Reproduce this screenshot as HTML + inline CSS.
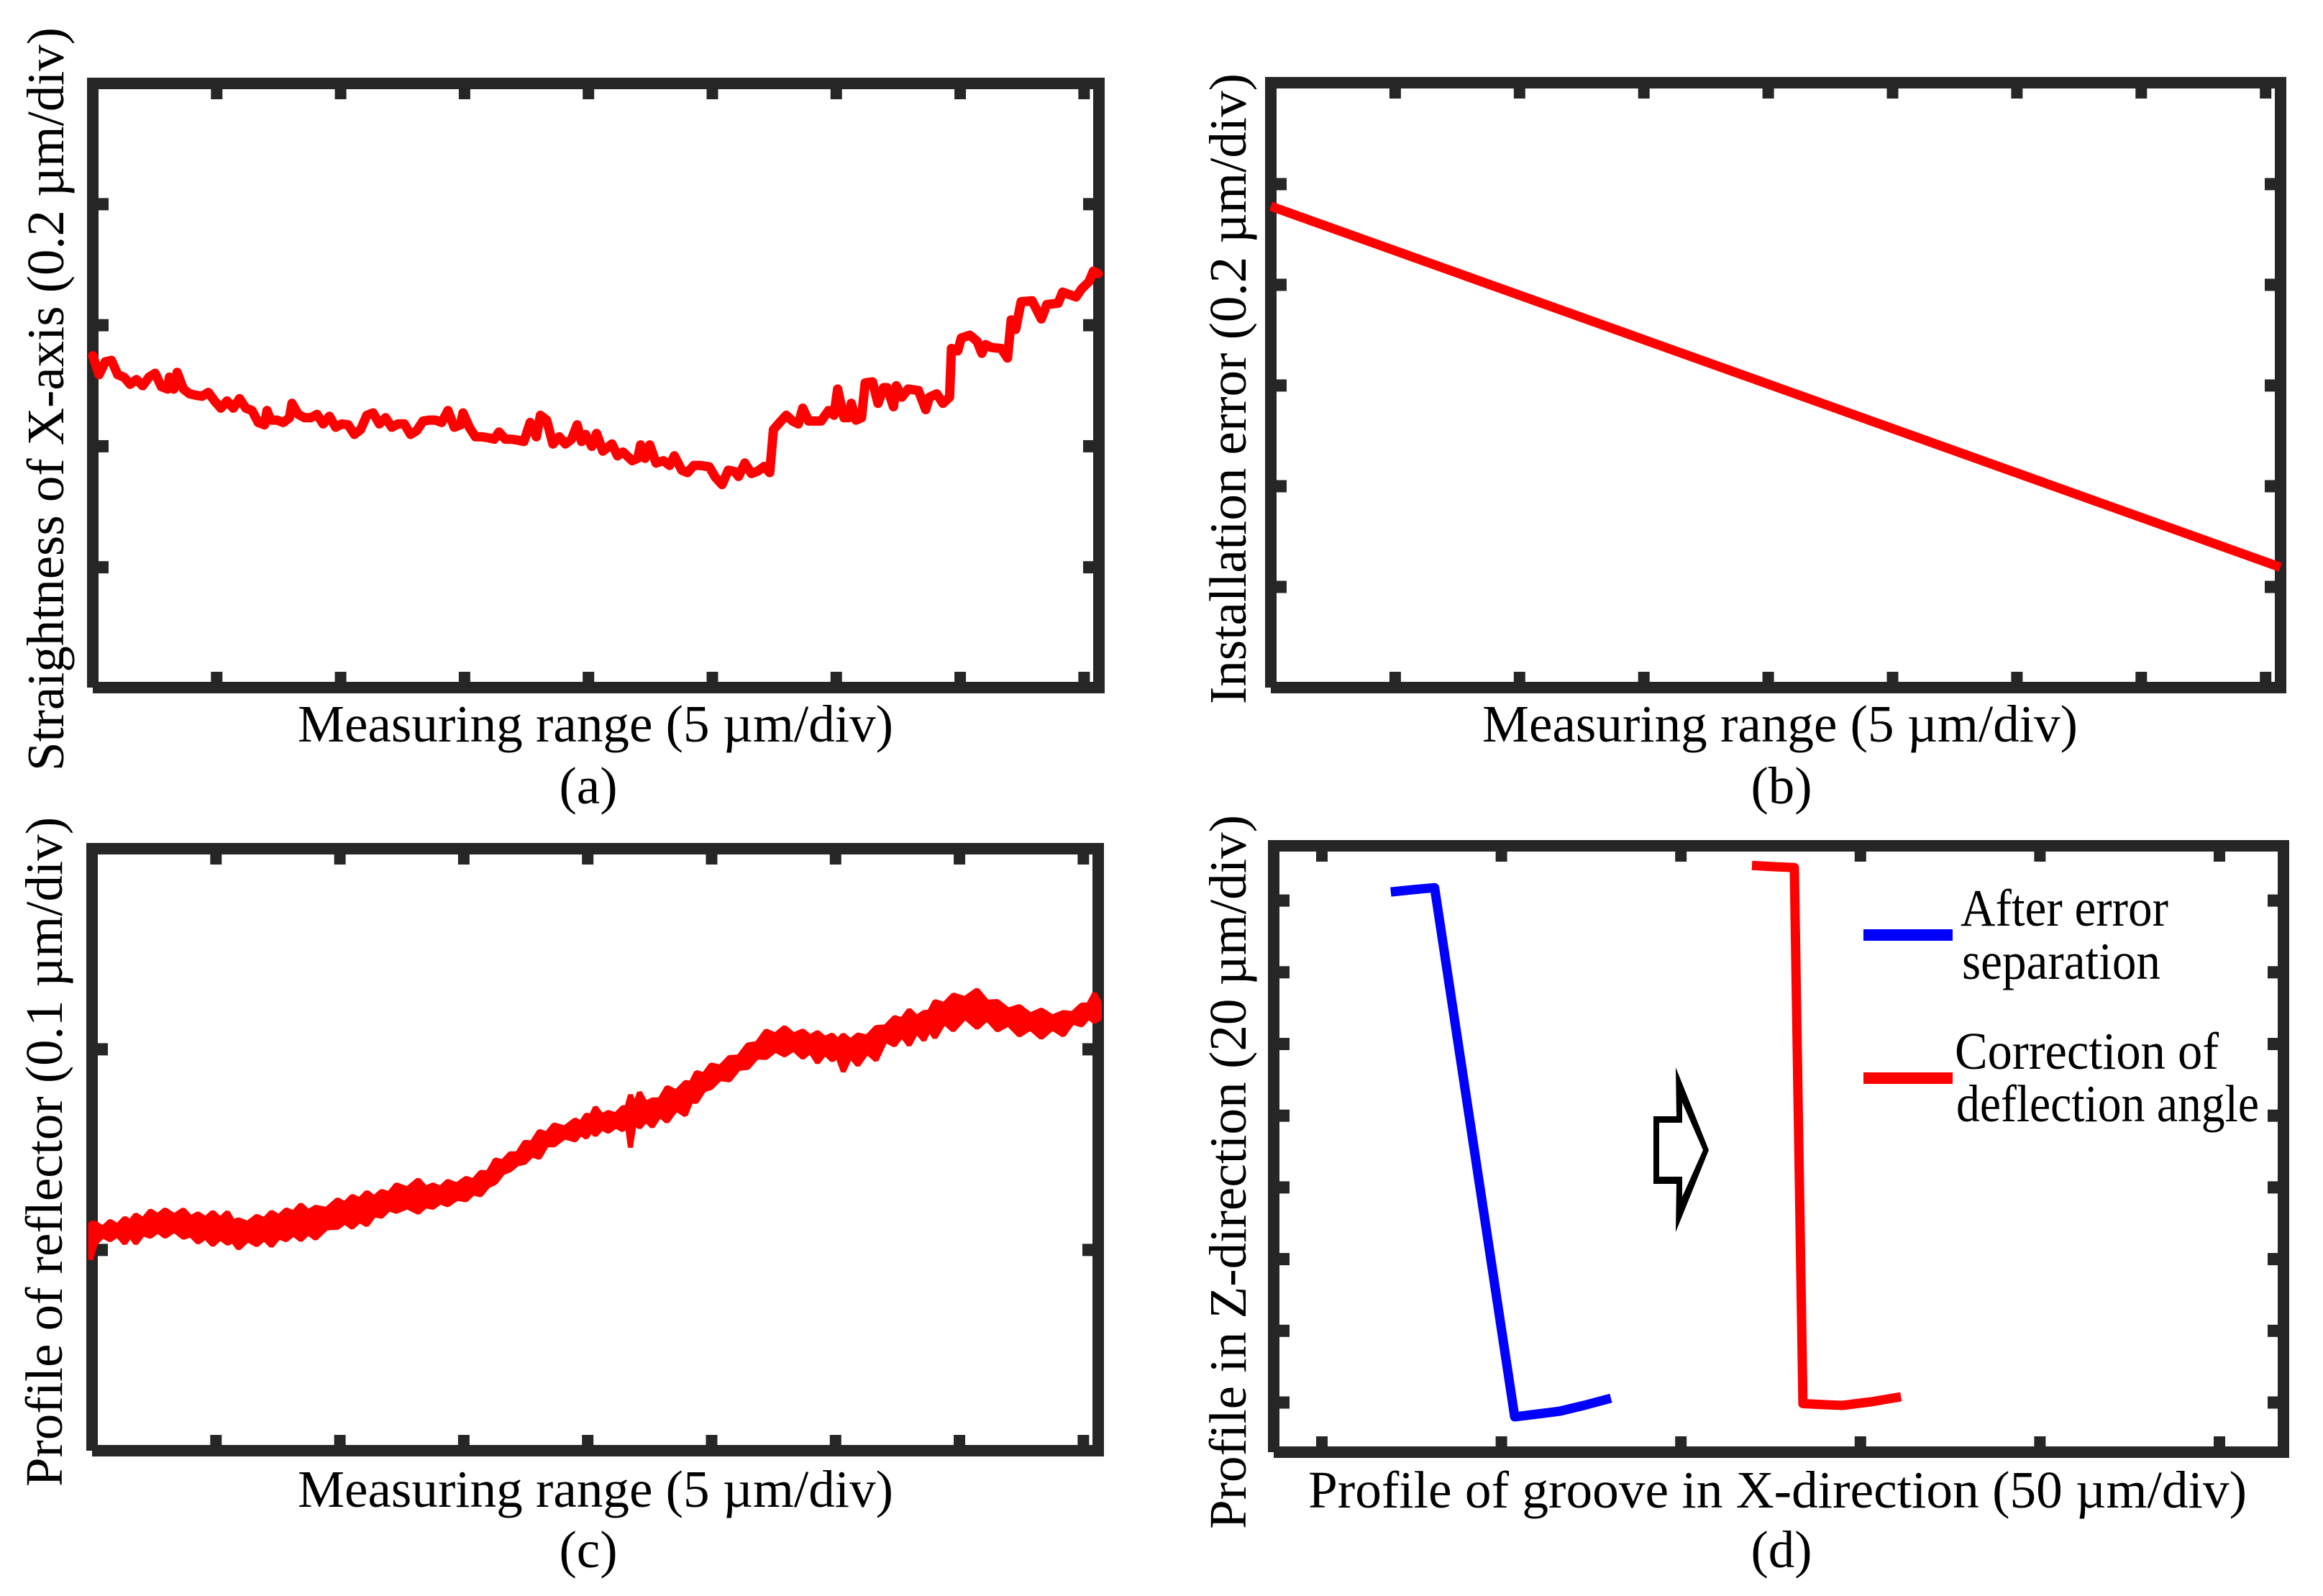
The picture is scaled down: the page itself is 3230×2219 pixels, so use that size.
<!DOCTYPE html>
<html lang="en">
<head>
<meta charset="utf-8">
<title>Error separation profile charts</title>
<style>
html,body{margin:0;padding:0;background:#fff}
svg{display:block}
text{font-family:"Liberation Serif",serif;font-size:73px;fill:#000}
</style>
</head>
<body>
<svg id="figure" xmlns="http://www.w3.org/2000/svg" width="3230" height="2219" viewBox="0 0 3230 2219">
<rect x="0" y="0" width="3230" height="2219" fill="#fff"/>
<g id="panel-a"></g>
<g id="panel-b"></g>
<g id="panel-c"></g>
<g id="panel-d"></g>

<text transform="translate(88 1072) rotate(-90)" textLength="1034" lengthAdjust="spacingAndGlyphs">Straightness of X-axis (0.2 µm/div)</text>
<text x="414" y="1031" textLength="828" lengthAdjust="spacingAndGlyphs">Measuring range (5 µm/div)</text>
<text x="818" y="1117" text-anchor="middle">(a)</text>

<text transform="translate(1732 979) rotate(-90)" textLength="877" lengthAdjust="spacingAndGlyphs">Installation error (0.2 µm/div)</text>
<text x="2061" y="1031" textLength="828" lengthAdjust="spacingAndGlyphs">Measuring range (5 µm/div)</text>
<text x="2477" y="1117" text-anchor="middle">(b)</text>

<text transform="translate(86 2067) rotate(-90)" textLength="931" lengthAdjust="spacingAndGlyphs">Profile of reflector (0.1 µm/div)</text>
<text x="414" y="2095" textLength="828" lengthAdjust="spacingAndGlyphs">Measuring range (5 µm/div)</text>
<text x="818" y="2179" text-anchor="middle">(c)</text>

<text transform="translate(1732 2126) rotate(-90)" textLength="993" lengthAdjust="spacingAndGlyphs">Profile in Z-direction (20 µm/div)</text>
<text x="1819" y="2096" textLength="1305" lengthAdjust="spacingAndGlyphs">Profile of groove in X-direction (50 µm/div)</text>
<text x="2477" y="2179" text-anchor="middle">(d)</text>

<g>
<rect x="2591" y="1292" width="124" height="16" fill="#0000ff"/>
<text x="2726" y="1287" textLength="289" lengthAdjust="spacingAndGlyphs">After error</text>
<text x="2728" y="1361" textLength="276" lengthAdjust="spacingAndGlyphs">separation</text>
<rect x="2591" y="1491" width="124" height="16" fill="#ff0000"/>
<text x="2718" y="1486" textLength="367" lengthAdjust="spacingAndGlyphs">Correction of</text>
<text x="2720" y="1559" textLength="421" lengthAdjust="spacingAndGlyphs">deflection angle</text>
</g>
<path fill="#000" fill-rule="evenodd" d="M2299,1552 L2331,1552 L2330,1484 L2376,1599 L2330,1713 L2331,1646 L2299,1646 Z M2307,1561 L2339,1561 L2339,1533 L2368,1599 L2339,1664 L2339,1636 L2307,1636 Z"/>
</svg>

<script>
// Panel (a): straightness trace (sample index, height counts)
const samplesA = [0,17,34,51,68,85,102,119,136,153,170,187,204,209,221,230,247,264,281,298,315,332,349,366,383,400,417,434,451,468,475,485,502,519,536,543,560,577,594,611,628,645,662,679,696,713,730,747,764,781,798,815,832,849,866,883,900,917,934,951,968,985,1002,1009,1026,1043,1060,1077,1094,1107,1124,1141,1158,1175,1192,1209,1220,1237,1254,1271,1288,1305,1320,1332,1343,1360,1373,1390,1415,1430,1445,1470,1485,1493,1505,1518,1535,1555,1572,1585,1605,1621,1638,1655,1680,1697,1715,1732,1750,1760,1777,1795,1812,1830,1845,1855,1872,1890,1907,1923,1935,1951,1968,1985,2005,2020,2030,2047,2060,2067,2080,2095,2105,2125,2140,2155,2165,2182,2190,2205,2222,2250,2270,2280,2300,2317,2335,2340,2357,2367,2390,2410,2423,2433,2450,2475,2493,2503,2515,2530,2560,2585,2600,2631,2643,2680,2695,2715,2727,2740];
const heightsA = [697,657,684,687,657,652,637,647,634,652,660,632,627,652,627,662,627,617,614,612,620,602,587,602,587,607,587,582,557,552,582,562,562,557,567,597,574,567,567,574,554,570,547,554,552,532,542,572,577,554,567,547,554,554,532,540,560,562,562,557,582,547,552,577,547,527,527,525,522,537,522,522,520,517,557,527,572,562,512,527,512,522,552,517,532,507,534,497,512,487,495,477,482,510,482,510,472,477,467,487,457,452,467,467,464,442,427,457,454,444,472,450,455,465,452,542,557,572,560,554,587,560,560,560,582,572,627,567,567,597,562,567,640,642,597,630,630,590,634,610,627,624,584,610,617,597,610,712,707,734,740,727,702,720,714,712,692,772,752,810,812,774,804,807,830,820,837,852,874,869];
const xTickDivsA = [1,2,3,4,5,6,7,8];
const yTickDivsA = [1,2,3,4];

// Panel (b): installation error line (µm)
const rangeB = [0, 40.6];
const errorB = [0.956, 0.239];
const xTickDivsB = [1,2,3,4,5,6,7,8];
const yTickDivsB = [1,2,3,4,5];

// Panel (c): noisy reflector profile, upper and lower envelope (sample index, counts)
const samplesC = [-4,9,29,49,69,89,104,119,139,159,179,199,224,249,269,289,309,329,349,369,384,399,424,449,469,489,509,529,549,569,589,609,639,669,689,709,729,749,769,789,809,829,859,889,909,929,949,969,994,1019,1039,1059,1079,1099,1119,1139,1159,1179,1199,1219,1239,1259,1288,1317,1332,1347,1359,1372,1389,1407,1427,1447,1457,1467,1479,1492,1509,1527,1547,1567,1592,1617,1632,1647,1667,1687,1712,1737,1762,1787,1812,1837,1862,1887,1912,1937,1957,1977,1997,2017,2032,2047,2067,2087,2112,2137,2162,2187,2207,2227,2247,2267,2282,2297,2322,2347,2379,2412,2439,2467,2497,2527,2557,2587,2617,2647,2672,2697,2715,2732,2745];
const upperC = [455,455,445,459,450,465,458,472,462,480,470,482,470,482,466,474,464,477,463,477,458,462,455,469,462,477,468,482,476,492,478,487,483,502,494,509,502,517,506,519,514,532,524,542,525,532,525,539,532,545,540,557,556,582,578,594,594,617,616,639,634,652,646,662,655,672,668,687,670,677,672,687,685,712,690,717,695,702,702,727,718,737,735,757,752,772,768,787,788,812,815,840,832,847,832,840,828,837,825,832,820,832,820,832,828,847,848,867,862,882,867,877,878,899,893,912,905,922,898,899,882,889,872,882,868,877,875,892,892,915,897];
const lowerC = [382,415,430,422,432,415,432,415,434,429,440,429,441,427,432,417,428,412,426,415,420,405,422,412,425,410,428,422,434,422,436,425,446,447,458,447,461,452,472,469,484,479,488,477,490,487,498,492,505,502,516,512,530,537,556,562,574,577,592,587,612,612,628,622,636,627,642,632,646,639,650,642,662,607,662,647,662,649,672,659,684,672,700,699,722,727,745,742,765,767,788,787,802,792,804,787,800,777,796,782,790,759,790,772,798,782,822,812,832,812,840,822,845,827,858,842,868,847,865,842,854,832,846,827,846,832,858,852,868,859,865];
const xTickDivsC = [1,2,3,4,5,6,7,8];
const yTickDivsC = [1,2];

// Panel (d): groove profile (µm)
const blueXD = [19.2,25,31.4,53.7,60,66.3,73,80.5];
const blueZD = [142.4,143,143.6,-4.0,-3.2,-2.4,-0.8,1.2];
const redXD = [119.8,125,131.6,134.0,140,145.0,153,161.3];
const redZD = [149.8,149.5,149.2,-0.3,-0.6,-0.8,0.2,1.6];
const xTickDivsD = [0,1,2,3,4,5];
const yTickDivsD = [0,1,2,3,4,5,6,7];

// Axis functions
const xA = s => 129 + s / 1.96;
const yA = v => 957 - v / 1.507;
const xB = um => 1767 + um / 5 * 172.9;
const yB = um => 956 - um / 0.2 * 140;
const xC = s => 128 + s / 1.96;
const yC = v => 2016.8 - v / 1.44;
const xD = um => 1838 + um / 50 * 249.6;
const yD = um => 1950 - um / 20 * 99.7;

const NS = 'http://www.w3.org/2000/svg';
const FRAME = '#262626';

function makeRect(parent, x, y, w, h) {
  const r = document.createElementNS(NS, 'rect');
  r.setAttribute('x', x);
  r.setAttribute('y', y);
  r.setAttribute('width', w);
  r.setAttribute('height', h);
  r.setAttribute('fill', FRAME);
  parent.appendChild(r);
  return r;
}

function drawFrame(id, L, R, T, B, xPositions, yPositions) {
  const g = document.getElementById(id);
  const t = 16, len = 14, tw = 16, th = 17;
  const top = makeRect(g, L, T, R - L, t);
  
  
  const left = makeRect(g, L, T, t, B - T - 8);
  
  
  const right = makeRect(g, R - t, T, t, B - T);
  
  
  const bottom = makeRect(g, L + 8, B - t, R - L - 8, t);
  
  
  xPositions.forEach(px => {
    const a = makeRect(g, px - tw / 2, T + t, tw, len);
    
    
    const b = makeRect(g, px - tw / 2, B - t - len, tw, len);
    
    
  });
  yPositions.forEach(py => {
    const a = makeRect(g, L + t, py - th / 2, len, th);
    
    
    const b = makeRect(g, R - t - len, py - th / 2, len, th);
    
    
  });
  return g;
}

function linePoints(xs, ys, fx, fy) {
  return xs.map((x, i) => fx(x).toFixed(1) + ',' + fy(ys[i]).toFixed(1)).join(' ');
}

function makePolyline(parent, pts, color, width, cap) {
  const p = document.createElementNS(NS, 'polyline');
  p.setAttribute('points', pts);
  p.setAttribute('fill', 'none');
  p.setAttribute('stroke', color);
  p.setAttribute('stroke-width', width);
  p.setAttribute('stroke-linejoin', 'round');
  p.setAttribute('stroke-linecap', cap);
  parent.appendChild(p);
  return p;
}

// Panel a
const gA = drawFrame('panel-a', 121, 1536, 108, 964,
  xTickDivsA.map(k => xA(k * 337.7)), yTickDivsA.map(k => yA(k * 253.6)));
const traceA = makePolyline(gA, linePoints(samplesA, heightsA, xA, yA), '#ff0000', 13, 'round');



// Panel b
const gB = drawFrame('panel-b', 1759, 3179, 107, 964,
  xTickDivsB.map(k => xB(k * 5)), yTickDivsB.map(k => yB(k * 0.2)));
const traceB = makePolyline(gB, linePoints(rangeB, errorB, xB, yB), '#ff0000', 13, 'butt');



// Panel c
const gC = drawFrame('panel-c', 120, 1535, 1172, 2025,
  xTickDivsC.map(k => xC(k * 337.7)), yTickDivsC.map(k => yC(k * 401.7)));
const bandC = document.createElementNS(NS, 'polygon');
const upperPts = samplesC.map((s, i) => xC(s).toFixed(1) + ',' + yC(upperC[i]).toFixed(1));
const lowerPts = samplesC.map((s, i) => xC(s).toFixed(1) + ',' + yC(lowerC[i]).toFixed(1)).reverse();
bandC.setAttribute('points', upperPts.concat(lowerPts).join(' '));
bandC.setAttribute('fill', '#ff0000');
bandC.setAttribute('stroke', '#ff0000');
bandC.setAttribute('stroke-width', '7');
bandC.setAttribute('stroke-linejoin', 'bevel');


gC.appendChild(bandC);

// Panel d
const gD = drawFrame('panel-d', 1763, 3183, 1168, 2027,
  xTickDivsD.map(k => xD(k * 50)), yTickDivsD.map(k => yD(k * 20)));
const traceBlue = makePolyline(gD, linePoints(blueXD, blueZD, xD, yD), '#0000ff', 13, 'butt');


const traceRed = makePolyline(gD, linePoints(redXD, redZD, xD, yD), '#ff0000', 13, 'butt');


</script>
</body>
</html>
